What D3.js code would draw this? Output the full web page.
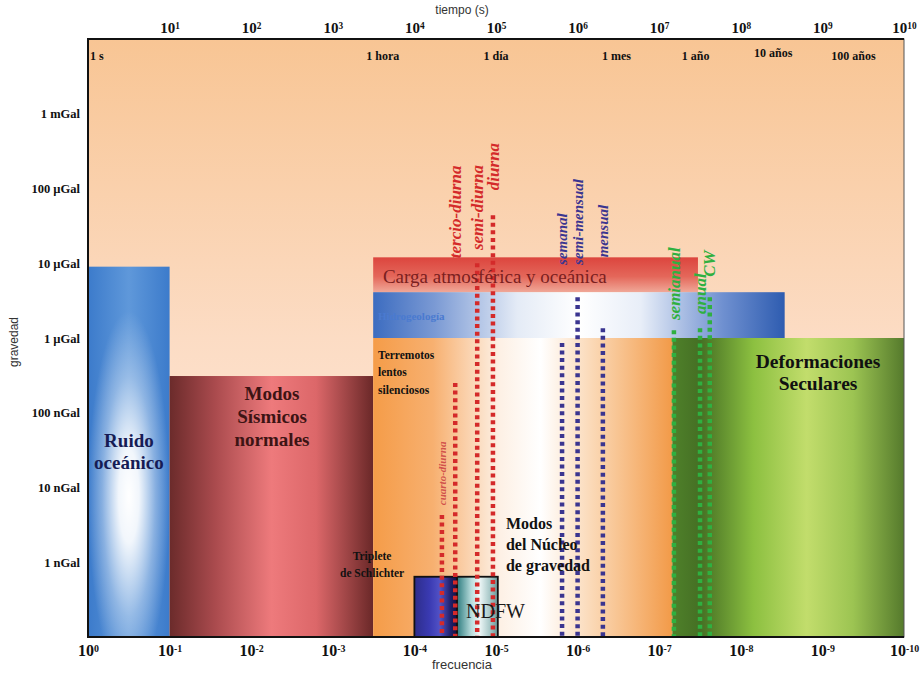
<!DOCTYPE html>
<html>
<head>
<meta charset="utf-8">
<script src="https://cdn.jsdelivr.net/npm/d3@7"></script>
<style>
  body { margin: 0; background: #fff; }
  svg text { font-family: "Liberation Serif", "Times New Roman", serif; }
  .sans { font-family: "Liberation Sans", Arial, sans-serif !important; }
</style>
</head>
<body>
<div id="chart"></div>
<script>
// Espectro de señales de gravedad: frecuencia (Hz) contra amplitud (nGal)

// ---- ejes ----
const freqExp = [0, -1, -2, -3, -4, -5, -6, -7, -8, -9, -10];
const timeExp = [1, 2, 3, 4, 5, 6, 7, 8, 9, 10];
const gravValues = [1e6, 1e5, 1e4, 1e3, 1e2, 1e1, 1e0];
const gravLabels = ['1 mGal', '100 µGal', '10 µGal', '1 µGal', '100 nGal', '10 nGal', '1 nGal'];

// ---- escala de tiempo (fila superior) ----
const periodLabels = ['1 s', '1 hora', '1 día', '1 mes', '1 año', '10 años', '100 años'];
const periodValues = [1, 4.1e3, 1.0e5, 3.0e6, 2.8e7, 2.5e8, 2.4e9];

// ---- bandas (frecuencia en Hz, gravedad en nGal) ----
const bandNames    = ['ruido', 'sismicos', 'lentos', 'seculares', 'carga', 'hidro', 'triplete', 'ndfw'];
const bandFreqFrom = [1, 0.1, 3.2e-4, 6.9e-8, 3.2e-4, 3.2e-4, 1.0e-4, 3.0e-5];
const bandFreqTo   = [0.1, 3.2e-4, 6.9e-8, 1e-10, 3.35e-8, 2.9e-9, 3.0e-5, 9.5e-6];
const bandGravLow  = [0.1, 0.1, 0.1, 0.1, 4.1e3, 1.0e3, 0.1, 0.1];
const bandGravHigh = [9e3, 310, 1e3, 1e3, 1.2e4, 4.1e3, 0.64, 0.64];

// ---- mareas y otras líneas espectrales ----
const tideNames = ['cuarto-diurna', 'tercio-diurna', 'semi-diurna', 'diurna',
                   'semanal', 'semi-mensual', 'mensual', 'semianual', 'anual', 'CW'];
const tideKind  = ['diaria', 'diaria', 'diaria', 'diaria',
                   'mensual', 'mensual', 'mensual', 'anual', 'anual', 'anual'];
const tideFreq  = [4.6e-5, 3.16e-5, 1.7e-5, 1.09e-5, 1.55e-6, 1.0e-6, 4.9e-7, 6.6e-8, 3.16e-8, 2.4e-8];
const tideTop   = [4.3, 250, 1e4, 4.4e4, 860, 3500, 1350, 1270, 1350, 3500];
const tideLabelBase = [5.8, 1.17e4, 1.5e4, 9.5e4, 9.5e3, 9.5e3, 1.2e4, 1.74e3, 2.1e3, 6.6e3];

// ---- textos dentro del gráfico ----
const notes = [
  { lines: ['Ruido', 'oceánico'], f: 0.315, g: 34.8, anchor: 'middle', size: 19, lh: 22, color: '#161c55', weight: 'bold' },
  { lines: ['Modos', 'Sísmicos', 'normales'], f: 5.56e-3, g: 148, anchor: 'middle', size: 19, lh: 23, color: '#3d1414', weight: 'bold' },
  { lines: ['Deformaciones', 'Seculares'], f: 1.13e-9, g: 397, anchor: 'middle', size: 19.5, lh: 22, color: '#111', weight: 'bold' },
  { lines: ['Modos', 'del Núcleo', 'de gravedad'], f: 7.55e-6, g: 2.79, anchor: 'start', size: 16, lh: 21, color: '#111', weight: 'bold' },
  { lines: ['Terremotos', 'lentos', 'silenciosos'], f: 2.79e-4, g: 524, anchor: 'start', size: 11.5, lh: 17.5, color: '#111', weight: 'bold' },
  { lines: ['Triplete', 'de Schlichter'], f: 3.3e-4, g: 1.07, anchor: 'middle', size: 11.5, lh: 17, color: '#111', weight: 'bold' },
  { lines: ['NDFW'], f: 2.33e-5, g: 0.18, anchor: 'start', size: 20, lh: 20, color: '#1a1a1a', weight: 'normal' },
  { lines: ['Carga atmosférica y oceánica'], f: 2.43e-4, g: 5440, anchor: 'start', size: 19, lh: 19, color: '#7a2020', weight: 'normal' },
  { lines: ['Hidrogeología'], f: 2.79e-4, g: 1.74e3, anchor: 'start', size: 11, lh: 11, color: '#4a7ad0', weight: 'bold' },
];

const W = 924, H = 674;
const L = 88, R = 904, T = 39, B = 637;

const x = d3.scaleLog().domain([1, 1e-10]).range([L, R]);
const tScale = d3.scaleLog().domain([1, 1e10]).range([L, R]);
const y = d3.scaleLog().domain([0.1, 1e7]).range([B, T]);

const svg = d3.select('#chart').append('svg').attr('width', W).attr('height', H);
const defs = svg.append('defs');

function grad(id, stops, vertical) {
  const g = defs.append('linearGradient').attr('id', id)
    .attr('x1', 0).attr('y1', 0).attr('x2', vertical ? 0 : 1).attr('y2', vertical ? 1 : 0);
  stops.forEach(([o, c, a]) => g.append('stop').attr('offset', o).attr('stop-color', c).attr('stop-opacity', a ?? 1));
}

grad('g-fondo', [[0, '#f8c594'], [0.5, '#fcdcc4'], [1, '#fdeee2']], true);
grad('g-ruido', [[0, '#3c7bcb'], [0.5, '#5f98da'], [1, '#3c7bcb']]);
grad('g-sismicos', [[0, '#6b2b2b'], [0.22, '#a94a4d'], [0.5, '#ee7a7c'], [0.72, '#dc6769'], [1, '#6a2828']]);
grad('g-lentos', [[0, '#f59c48'], [0.2, '#f7b070'], [0.42, '#fdf0e4'], [0.56, '#ffffff'], [0.76, '#fad2aa'], [1, '#f29a48']]);
grad('g-seculares', [[0, '#4f812a'], [0.12, '#456f24'], [0.35, '#8cc040'], [0.58, '#c2dd6c'], [0.78, '#9cc452'], [1, '#557a2c']]);
grad('g-carga', [[0, '#dc453e'], [0.55, '#e4675a'], [1, '#f0a898']], true);
grad('g-hidro', [[0, '#3c6cc0'], [0.15, '#7b9ad4'], [0.35, '#e4ebf6'], [0.5, '#ffffff'], [0.65, '#e8eef8'], [0.85, '#6f90d0'], [1, '#2e5cb0']]);
grad('g-triplete', [[0, '#2d2d8a'], [0.35, '#3a3ab2'], [0.6, '#5252c6'], [0.85, '#20206a'], [1, '#101040']]);
grad('g-ndfw', [[0, '#2f7d80'], [0.35, '#b8dcdc'], [0.55, '#eef7f7'], [0.8, '#a8c8c8'], [1, '#6a9898']]);

const rg = defs.append('radialGradient').attr('id', 'g-ruido-blanco')
  .attr('cx', 0.5).attr('cy', 0.62).attr('r', 0.5).attr('fx', 0.5).attr('fy', 0.62);
[[0, '#fff', 1], [0.25, '#fff', 0.92], [0.65, '#fff', 0.35], [1, '#fff', 0]]
  .forEach(([o, c, a]) => rg.append('stop').attr('offset', o).attr('stop-color', c).attr('stop-opacity', a));

// fondo
svg.append('rect').attr('x', L).attr('y', T).attr('width', R - L).attr('height', B - T)
  .attr('fill', 'url(#g-fondo)');

// bandas
const gBands = svg.append('g');
bandNames.forEach((name, i) => {
  const rx = x(bandFreqFrom[i]), rw = x(bandFreqTo[i]) - rx;
  const ry = y(bandGravHigh[i]), rh = y(bandGravLow[i]) - ry;
  gBands.append('rect').attr('x', rx).attr('y', ry).attr('width', rw).attr('height', rh)
    .attr('fill', `url(#g-${name})`);
  if (name === 'ruido') {
    gBands.append('rect').attr('x', rx).attr('y', ry).attr('width', rw).attr('height', rh)
      .attr('fill', 'url(#g-ruido-blanco)');
  }
  if (name === 'triplete' || name === 'ndfw') {
    gBands.append('rect').attr('x', rx).attr('y', ry).attr('width', rw).attr('height', rh)
      .attr('fill', 'none').attr('stroke', '#111').attr('stroke-width', 1.8);
  }
});

// líneas punteadas
const kindColor = { diaria: '#d42a2a', mensual: '#3a3590', anual: '#2fb040' };
const gLines = svg.append('g');
tideNames.forEach((name, i) => {
  gLines.append('line')
    .attr('x1', x(tideFreq[i])).attr('x2', x(tideFreq[i]))
    .attr('y1', y(tideTop[i])).attr('y2', y(0.1) - 1)
    .attr('stroke', kindColor[tideKind[i]])
    .attr('stroke-width', 4.5)
    .attr('stroke-dasharray', '4 3.6');
});

// textos de las bandas
const gNotes = svg.append('g');
notes.forEach(n => {
  const t = gNotes.append('text')
    .attr('x', x(n.f)).attr('y', y(n.g))
    .attr('text-anchor', n.anchor)
    .attr('font-family', '"Liberation Serif", serif')
    .attr('font-size', n.size)
    .attr('font-weight', n.weight)
    .attr('fill', n.color);
  n.lines.forEach((s, k) => t.append('tspan').attr('x', x(n.f)).attr('dy', k ? n.lh : 0).text(s));
});

// etiquetas de las mareas (giradas)
const labelSize = { diaria: 17, mensual: 15, anual: 17 };
tideNames.forEach((name, i) => {
  const lx = x(tideFreq[i]), ly = y(tideLabelBase[i]);
  const small = name === 'cuarto-diurna';
  gNotes.append('text')
    .attr('transform', `translate(${lx},${ly}) rotate(-90)`)
    .attr('dy', '0.33em')
    .attr('font-size', small ? 11 : labelSize[tideKind[i]])
    .attr('font-style', 'italic')
    .attr('font-weight', 'bold')
    .attr('fill', small ? '#cc4444' : kindColor[tideKind[i]])
    .attr('fill-opacity', small ? 0.9 : 1)
    .text(name);
});

// fila de periodos
svg.append('g').selectAll('text').data(periodLabels).join('text')
  .attr('x', (d, i) => i === 0 ? tScale(periodValues[i]) + 2 : tScale(periodValues[i]))
  .attr('y', (d, i) => i === 5 ? T + 18 : T + 21)
  .attr('text-anchor', (d, i) => i === 0 ? 'start' : 'middle')
  .attr('font-size', 12).attr('font-weight', 'bold').attr('fill', '#111')
  .text(d => d);

// marco
svg.append('rect').attr('x', L).attr('y', T).attr('width', R - L).attr('height', B - T)
  .attr('fill', 'none').attr('stroke', '#555').attr('stroke-width', 1);
svg.append('path')
  .attr('d', `M${R},${T}H${L}V${B}H${R}`)
  .attr('fill', 'none').attr('stroke', '#111').attr('stroke-width', 2);

// ejes
function powerLabels(sel, exps) {
  sel.selectAll('.tick text').each(function (d, i) {
    const t = d3.select(this).text(null);
    t.append('tspan').text('10');
    t.append('tspan').attr('dy', '-0.48em').attr('font-size', '0.62em').text(exps[i]);
  });
}

const axBottom = svg.append('g').attr('transform', `translate(0,${B})`)
  .call(d3.axisBottom(x).tickValues(freqExp.map(e => Math.pow(10, e))).tickSize(0).tickPadding(8));
axBottom.select('.domain').remove();
axBottom.selectAll('.tick text')
  .attr('font-family', '"Liberation Serif", serif').attr('font-size', 16).attr('font-weight', 'bold').attr('fill', '#111');
powerLabels(axBottom, freqExp);

const axTop = svg.append('g').attr('transform', `translate(0,${T})`)
  .call(d3.axisTop(tScale).tickValues(timeExp.map(e => Math.pow(10, e))).tickSize(0).tickPadding(6));
axTop.select('.domain').remove();
axTop.selectAll('.tick text')
  .attr('font-family', '"Liberation Serif", serif').attr('font-size', 15).attr('font-weight', 'bold').attr('fill', '#111');
powerLabels(axTop, timeExp);

const axLeft = svg.append('g').attr('transform', `translate(${L},0)`)
  .call(d3.axisLeft(y).tickValues(gravValues).tickFormat((d, i) => gravLabels[i]).tickSize(0).tickPadding(8));
axLeft.select('.domain').remove();
axLeft.selectAll('.tick text')
  .attr('font-family', '"Liberation Serif", serif').attr('font-size', 12.5).attr('font-weight', 'bold').attr('fill', '#111');

// títulos
svg.append('text').attr('class', 'sans').attr('x', 462).attr('y', 14)
  .attr('text-anchor', 'middle').attr('font-size', 12).attr('fill', '#333').text('tiempo (s)');
svg.append('text').attr('class', 'sans').attr('x', 462).attr('y', 669)
  .attr('text-anchor', 'middle').attr('font-size', 13).attr('fill', '#333').text('frecuencia');
svg.append('text').attr('class', 'sans')
  .attr('transform', `translate(18,${(T + B) / 2 + 4}) rotate(-90)`)
  .attr('text-anchor', 'middle').attr('font-size', 12).attr('fill', '#333').text('gravedad');
</script>
</body>
</html>
